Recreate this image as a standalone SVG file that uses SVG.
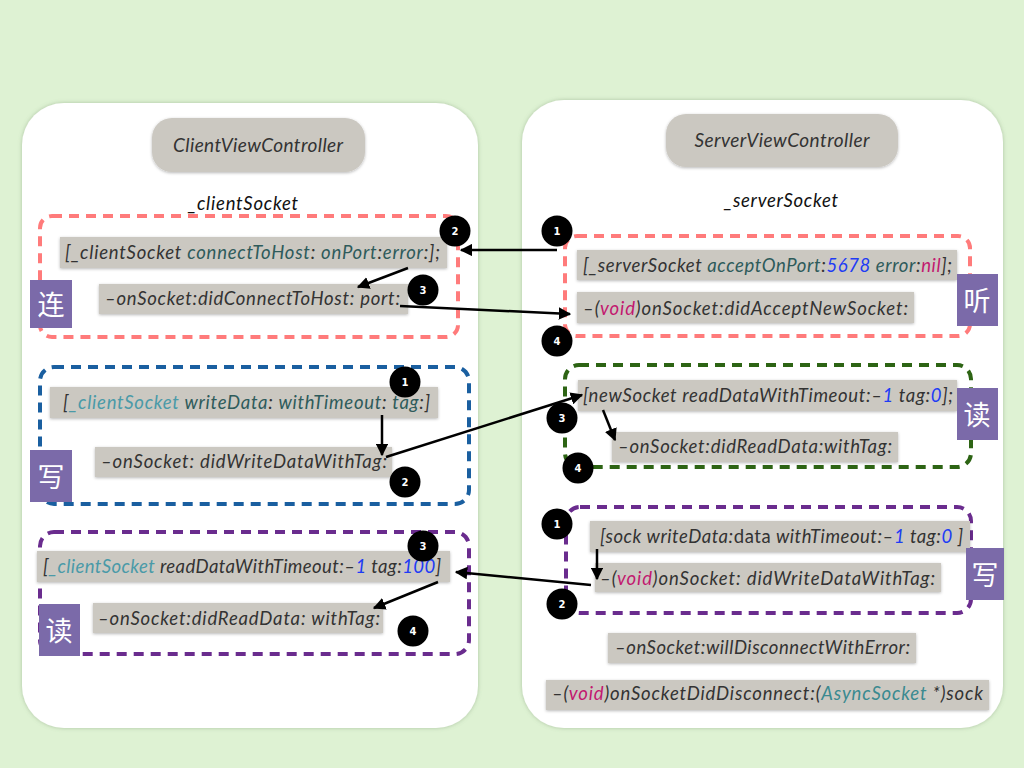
<svg xmlns="http://www.w3.org/2000/svg" width="1024" height="768" viewBox="0 0 1024 768">
  <defs>
    <filter id="shadow" x="-10%" y="-10%" width="120%" height="130%">
      <feDropShadow dx="0" dy="1" stdDeviation="1.5" flood-color="#000" flood-opacity="0.28"/>
    </filter>
    <filter id="panelShadow" x="-5%" y="-5%" width="110%" height="110%">
      <feDropShadow dx="0" dy="0" stdDeviation="2" flood-color="#6f8a66" flood-opacity="0.45"/>
    </filter>
    <marker id="arrow" viewBox="0 0 10 10" refX="9" refY="5" markerWidth="5" markerHeight="5" orient="auto" markerUnits="strokeWidth">
      <path d="M0,0 L10,5 L0,10 z" fill="#000"/>
    </marker>
  </defs>
  <style>
    .panel { fill: #ffffff; filter: url(#panelShadow); }
    .title { fill: #cbc8c1; filter: url(#shadow); }
    .code { fill: #cbc8c1; filter: url(#shadow); }
    .t { font-family: Lato, "Open Sans", sans-serif; font-style: italic; font-size: 18.5px; fill: #333333; }
    .tt { font-family: Lato, "Open Sans", sans-serif; font-style: italic; font-size: 19px; fill: #333333; }
    .sock { font-family: Lato, "Open Sans", sans-serif; font-style: italic; font-size: 18.5px; fill: #111111; }
    .m { fill: #2e5b5b; }
    .v { fill: #4a9aa8; }
    .n { fill: #1e3cf5; }
    .k { fill: #c2186f; }
    .a { fill: #3a8a90; }
    .up { font-style: normal; }
    .dash { fill: none; stroke-width: 4; stroke-dasharray: 10 7; }
    .red { stroke: #ff7b7b; }
    .blue { stroke: #1a5fa0; }
    .green { stroke: #2d6414; }
    .purple { stroke: #6a2c8e; }
    .tag { fill: #7b6aa9; }
    .cjk { font-family: "Noto Sans CJK SC", sans-serif; font-size: 27px; fill: #ffffff; text-anchor: middle; }
    .badge circle { fill: #000000; }
    .badge text { font-family: "DejaVu Sans", sans-serif; font-size: 10px; font-weight: bold; fill: #ffffff; text-anchor: middle; }
    .conn { stroke: #000; stroke-width: 2.5; fill: none; marker-end: url(#arrow); }
  </style>

  <rect width="1024" height="768" fill="#def2d3"/>

  <!-- Client side -->
  <g id="client-panel">
    <rect class="panel" x="22" y="103" width="456" height="625" rx="42"/>
    <rect class="title" x="152" y="118" width="213" height="54" rx="20"/>
    <text class="tt" x="258" y="152" text-anchor="middle" textLength="170">ClientViewController</text>
    <text class="sock" x="243" y="210" text-anchor="middle" textLength="110">_clientSocket</text>
  </g>

  <!-- Server side -->
  <g id="server-panel">
    <rect class="panel" x="522" y="100" width="481" height="628" rx="42"/>
    <rect class="title" x="666" y="114" width="232" height="53" rx="20"/>
    <text class="tt" x="782" y="147" text-anchor="middle" textLength="175">ServerViewController</text>
    <text class="sock" x="781" y="207" text-anchor="middle" textLength="114">_serverSocket</text>
  </g>

  <!-- Connect -->
  <g id="client-connect">
    <rect class="dash red" x="40" y="216" width="418" height="121" rx="12"/>
    <rect class="code" x="60" y="237" width="387" height="31"/>
    <text class="t" x="65" y="259" textLength="375">[_clientSocket <tspan class="m">connectToHost</tspan>: <tspan class="m">onPort</tspan>:<tspan class="m">error</tspan>:];</text>
    <rect class="code" x="99" y="284" width="309" height="30"/>
    <text class="t" x="105" y="305" textLength="295">–onSocket:didConnectToHost: port:</text>
    <rect class="tag" x="30" y="280" width="42" height="48"/>
    <text class="cjk" x="51" y="315">连</text>
  </g>

  <!-- Listen -->
  <g id="server-listen">
    <rect class="dash red" x="565" y="236" width="405" height="100" rx="12"/>
    <rect class="code" x="577" y="250" width="380" height="30"/>
    <text class="t" x="583" y="272" textLength="369">[_serverSocket <tspan class="m">acceptOnPort</tspan>:<tspan class="n">5678</tspan> <tspan class="m">error</tspan>:<tspan class="k">nil</tspan>];</text>
    <rect class="code" x="577" y="292" width="337" height="31"/>
    <text class="t" x="583" y="315" textLength="325">–(<tspan class="k">void</tspan>)onSocket:didAcceptNewSocket:</text>
    <rect class="tag" x="957" y="274" width="41" height="52"/>
    <text class="cjk" x="977" y="311">听</text>
  </g>

  <!-- Client write -->
  <g id="client-write">
    <rect class="dash blue" x="40" y="367" width="429" height="137" rx="14"/>
    <rect class="code" x="50" y="387" width="388" height="31"/>
    <text class="t" x="63" y="409" textLength="367">[<tspan class="v">_clientSocket</tspan> <tspan class="m">writeData</tspan>: <tspan class="m">withTimeout</tspan>: <tspan class="m">tag</tspan>:]</text>
    <rect class="code" x="95" y="447" width="297" height="30"/>
    <text class="t" x="101" y="468" textLength="286">–onSocket: didWriteDataWithTag:</text>
    <rect class="tag" x="30" y="450" width="42" height="52"/>
    <text class="cjk" x="51" y="487">写</text>
  </g>

  <!-- Server read -->
  <g id="server-read">
    <rect class="dash green" x="565" y="365" width="406" height="102" rx="14"/>
    <rect class="code" x="578" y="380" width="379" height="31"/>
    <text class="t" x="583" y="402" textLength="370">[newSocket readDataWithTimeout:–<tspan class="n">1</tspan> tag:<tspan class="n">0</tspan>];</text>
    <rect class="code" x="612" y="432" width="286" height="30"/>
    <text class="t" x="618" y="453" textLength="274">–onSocket:didReadData:withTag:</text>
    <rect class="tag" x="957" y="388" width="41" height="52"/>
    <text class="cjk" x="977" y="425">读</text>
  </g>

  <!-- Client read -->
  <g id="client-read">
    <rect class="dash purple" x="40" y="532" width="429" height="122" rx="14"/>
    <rect class="code" x="37" y="551" width="413" height="31"/>
    <text class="t" x="43" y="573" textLength="398">[<tspan class="v">_clientSocket</tspan> readDataWithTimeout:–<tspan class="n">1</tspan> tag:<tspan class="n">100</tspan>]</text>
    <rect class="code" x="93" y="603" width="290" height="30"/>
    <text class="t" x="98" y="625" textLength="282">–onSocket:didReadData: withTag:</text>
    <rect class="tag" x="39" y="604" width="41" height="52"/>
    <text class="cjk" x="59" y="641">读</text>
  </g>

  <!-- Server write -->
  <g id="server-write">
    <rect class="dash purple" x="566" y="507" width="405" height="106" rx="14"/>
    <rect class="code" x="590" y="521" width="380" height="31"/>
    <text class="t" x="600" y="543" textLength="363">[sock writeData:<tspan class="up">data</tspan> withTimeout:–<tspan class="n">1</tspan> tag:<tspan class="n">0</tspan> ]</text>
    <rect class="code" x="595" y="563" width="346" height="29"/>
    <text class="t" x="600" y="585" textLength="335">–(<tspan class="k">void</tspan>)onSocket: didWriteDataWithTag:</text>
    <rect class="tag" x="966" y="548" width="38" height="52"/>
    <text class="cjk" x="985" y="585">写</text>
  </g>

  <!-- Disconnect callbacks -->
  <g id="server-disconnect">
    <rect class="code" x="608" y="633" width="308" height="30"/>
    <text class="t" x="615" y="654" textLength="295">–onSocket:willDisconnectWithError:</text>
    <rect class="code" x="546" y="680" width="443" height="30"/>
    <text class="t" x="552" y="700" textLength="431">–(<tspan class="k">void</tspan>)onSocketDidDisconnect:(<tspan class="a">AsyncSocket</tspan> *)sock</text>
  </g>

  <!-- Connectors -->
  <g id="connectors">
    <line class="conn" x1="557" y1="250" x2="461" y2="250"/>
    <line class="conn" x1="408" y1="268" x2="358" y2="287"/>
    <line class="conn" x1="400" y1="306" x2="570" y2="314"/>
    <line class="conn" x1="382" y1="415" x2="382" y2="455"/>
    <line class="conn" x1="386" y1="457" x2="582" y2="395"/>
    <line class="conn" x1="603" y1="410" x2="615" y2="440"/>
    <line class="conn" x1="597" y1="549" x2="597" y2="579"/>
    <line class="conn" x1="591" y1="585" x2="456" y2="572"/>
    <line class="conn" x1="438" y1="582" x2="374" y2="608"/>
  </g>

  <!-- Step badges -->
  <g id="badges">
    <g class="badge"><circle cx="455" cy="231" r="15.5"/><text x="455" y="235">2</text></g>
    <g class="badge"><circle cx="423" cy="290" r="15.5"/><text x="423" y="294">3</text></g>
    <g class="badge"><circle cx="557" cy="231" r="15.5"/><text x="557" y="235">1</text></g>
    <g class="badge"><circle cx="557" cy="341" r="15.5"/><text x="557" y="345">4</text></g>
    <g class="badge"><circle cx="405" cy="382" r="15.5"/><text x="405" y="386">1</text></g>
    <g class="badge"><circle cx="405" cy="482" r="15.5"/><text x="405" y="486">2</text></g>
    <g class="badge"><circle cx="562" cy="418" r="15.5"/><text x="562" y="422">3</text></g>
    <g class="badge"><circle cx="578" cy="468" r="15.5"/><text x="578" y="472">4</text></g>
    <g class="badge"><circle cx="423" cy="546" r="15.5"/><text x="423" y="550">3</text></g>
    <g class="badge"><circle cx="413" cy="631" r="15.5"/><text x="413" y="635">4</text></g>
    <g class="badge"><circle cx="557" cy="524" r="15.5"/><text x="557" y="528">1</text></g>
    <g class="badge"><circle cx="562" cy="604" r="15.5"/><text x="562" y="608">2</text></g>
  </g>
</svg>
